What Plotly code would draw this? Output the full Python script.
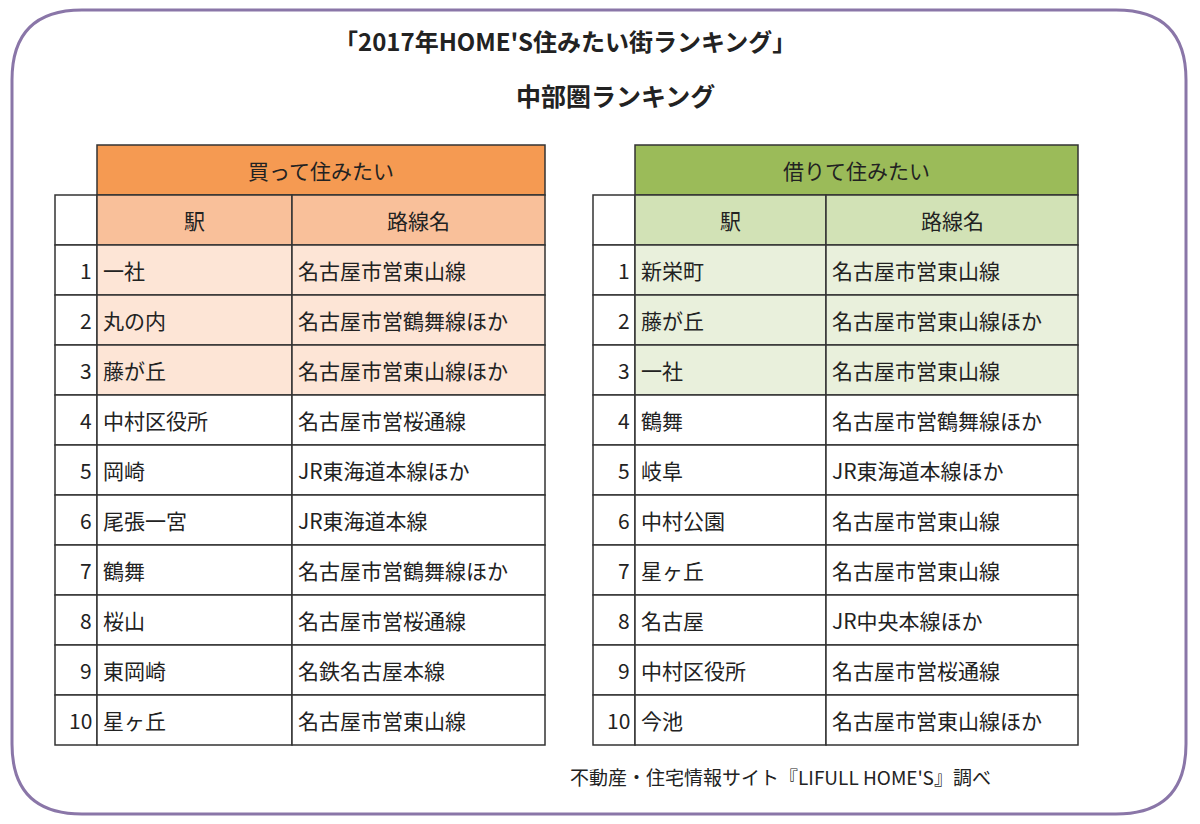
import plotly.graph_objects as go

title = "「2017年HOME'S住みたい街ランキング」"
subtitle = "中部圏ランキング"
footer = "不動産・住宅情報サイト『LIFULL HOME'S』調べ"

ranks = [1, 2, 3, 4, 5, 6, 7, 8, 9, 10]
buy_stations = ["一社", "丸の内", "藤が丘", "中村区役所", "岡崎", "尾張一宮", "鶴舞", "桜山", "東岡崎", "星ヶ丘"]
buy_lines = ["名古屋市営東山線", "名古屋市営鶴舞線ほか", "名古屋市営東山線ほか", "名古屋市営桜通線",
             "JR東海道本線ほか", "JR東海道本線", "名古屋市営鶴舞線ほか", "名古屋市営桜通線",
             "名鉄名古屋本線", "名古屋市営東山線"]
rent_stations = ["新栄町", "藤が丘", "一社", "鶴舞", "岐阜", "中村公園", "星ヶ丘", "名古屋", "中村区役所", "今池"]
rent_lines = ["名古屋市営東山線", "名古屋市営東山線ほか", "名古屋市営東山線", "名古屋市営鶴舞線ほか",
              "JR東海道本線ほか", "名古屋市営東山線", "名古屋市営東山線", "JR中央本線ほか",
              "名古屋市営桜通線", "名古屋市営東山線ほか"]

FONT = "Noto Sans CJK JP"
fig = go.Figure()
shapes, ann = [], []

# outer rounded frame
r = 70
x0, y0, x1, y1 = 12, 10, 1186, 814
shapes.append(dict(type="path", line=dict(color="#8a76a8", width=3),
    path=f"M {x0+r},{y0} L {x1-r},{y0} Q {x1},{y0} {x1},{y0+r} L {x1},{y1-r} Q {x1},{y1} {x1-r},{y1} "
         f"L {x0+r},{y1} Q {x0},{y1} {x0},{y1-r} L {x0},{y0+r} Q {x0},{y0} {x0+r},{y0} Z"))


def rect(xa, ya, xb, yb, fill):
    shapes.append(dict(type="rect", x0=xa, x1=xb, y0=ya, y1=yb, fillcolor=fill,
                       line=dict(color="#333333", width=1.5), layer="below"))


def text(x, y, s, anchor="left", size=21, color="#222"):
    ann.append(dict(x=x, y=y, text=s, showarrow=False, xanchor=anchor, yanchor="middle",
                    font=dict(family=FONT, size=size, color=color)))


def table(xs, head, stations, lines, c1, c2, c3):
    a, b, c, d = xs
    top, h = 145, 50
    rect(b, top, d, top + h, c1)
    text((b + d) / 2, top + h / 2, head, "center")
    rect(a, top + h, b, top + 2 * h, "white")
    rect(b, top + h, c, top + 2 * h, c2)
    rect(c, top + h, d, top + 2 * h, c2)
    text((b + c) / 2, top + 1.5 * h, "駅", "center")
    text((c + d) / 2, top + 1.5 * h, "路線名", "center")
    for i, (rk, st, ln) in enumerate(zip(ranks, stations, lines)):
        ya = top + (i + 2) * h
        fill = c3 if rk <= 3 else "white"
        rect(a, ya, b, ya + h, "white")
        rect(b, ya, c, ya + h, fill)
        rect(c, ya, d, ya + h, fill)
        text(b - 3, ya + h / 2, str(rk), "right")
        text(b + 4, ya + h / 2, st)
        text(c + 4, ya + h / 2, ln)


table((55, 97, 292, 545), "買って住みたい", buy_stations, buy_lines, "#f59a52", "#f9c09a", "#fde5d6")
table((593, 635, 826, 1078), "借りて住みたい", rent_stations, rent_lines, "#9bbb59", "#d2e2b6", "#e9f0dc")

text(565, 40, "<b>" + title + "</b>", "center", 24)
text(615, 95, "<b>" + subtitle + "</b>", "center", 25)
text(780, 776, footer, "center", 19)

fig.update_layout(width=1200, height=824, margin=dict(l=0, r=0, t=0, b=0),
                  plot_bgcolor="white", paper_bgcolor="white", shapes=shapes, annotations=ann,
                  xaxis=dict(range=[8, 1208], visible=False, fixedrange=True),
                  yaxis=dict(range=[832, 8], visible=False, fixedrange=True),
                  showlegend=False)
fig.write_html("out.html")
